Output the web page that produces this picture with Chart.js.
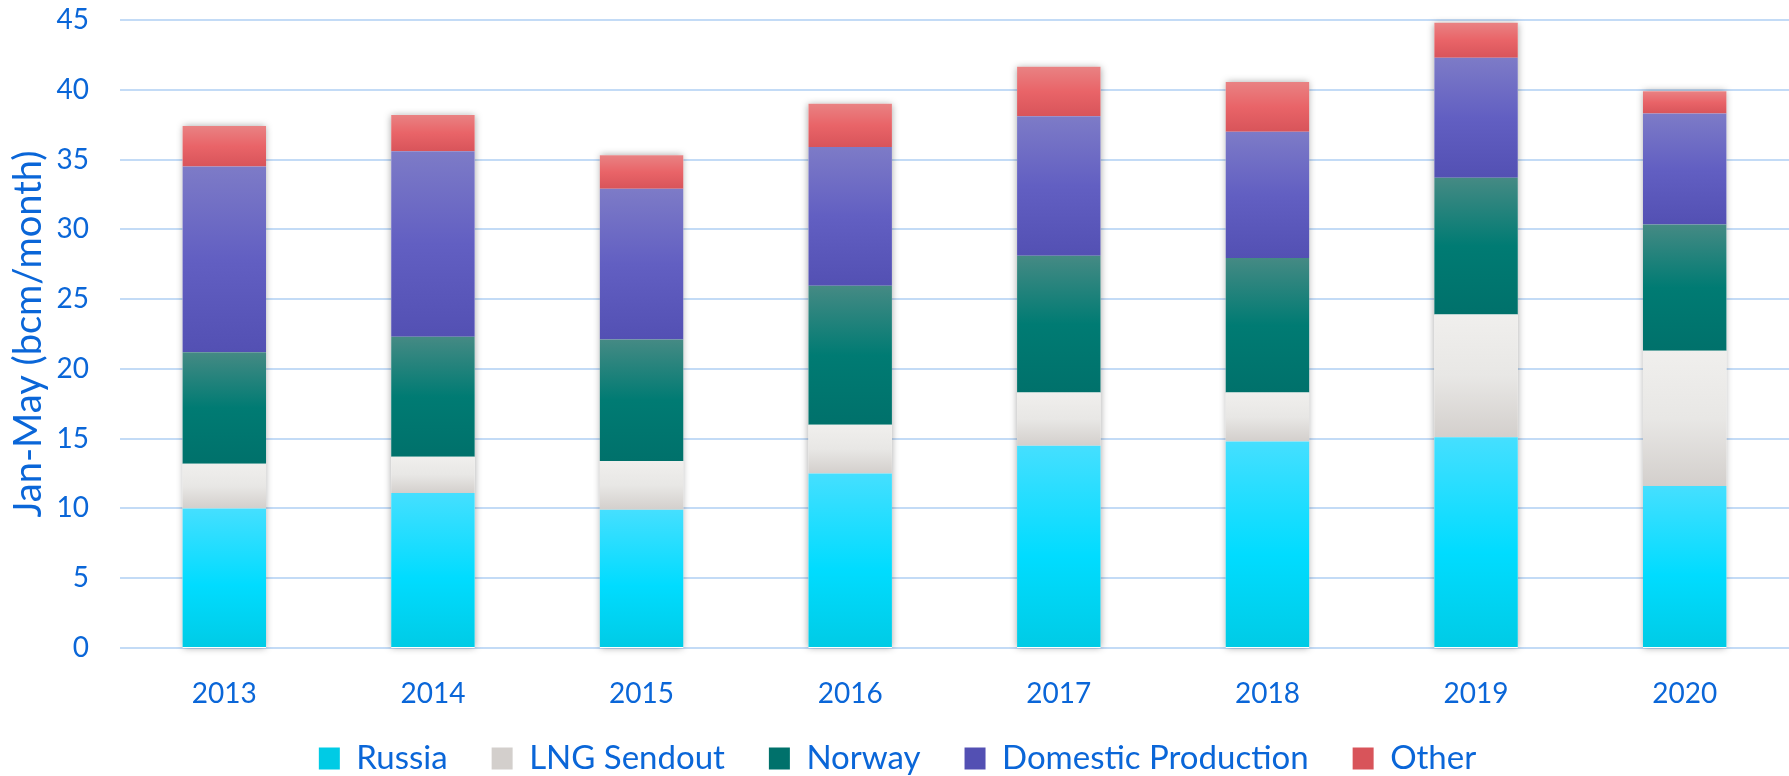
<!DOCTYPE html>
<html>
<head>
<meta charset="utf-8">
<script src="https://cdn.jsdelivr.net/npm/chart.js@4/dist/chart.umd.min.js"></script>
<style>
  html, body { margin: 0; padding: 0; background: #fff; overflow: hidden; }
  #myChart { display: block; position: absolute; left: 0; top: 0; }
</style>
</head>
<body>
<canvas id="myChart" width="1789" height="776"></canvas>
<script>
var years = ['2013', '2014', '2015', '2016', '2017', '2018', '2019', '2020'];
var russia = [10.0, 11.1, 9.9, 12.5, 14.5, 14.8, 15.1, 11.6];
var lng = [3.2, 2.6, 3.5, 3.5, 3.8, 3.5, 8.8, 9.7];
var norway = [8.0, 8.6, 8.7, 9.95, 9.8, 9.65, 9.8, 9.05];
var domestic = [13.3, 13.3, 10.8, 9.95, 10.0, 9.05, 8.6, 7.95];
var other = [2.9, 2.6, 2.4, 3.1, 3.55, 3.55, 2.5, 1.6];
var yTicks = [0, 5, 10, 15, 20, 25, 30, 35, 40, 45];

var series = [russia, lng, norway, domestic, other];
var textColor = '#0a66d8';

// vertical shading of each segment, light at the top, darker at the bottom
function shade(stops, s) {
    return function (c) {
        var chart = c.chart;
        if (!chart.chartArea || c.type !== 'data') return stops[1][1];
        var lo = 0;
        for (var k = 0; k < s; k++) lo += series[k][c.dataIndex];
        var hi = lo + series[s][c.dataIndex];
        var y = chart.scales.y;
        var g = chart.ctx.createLinearGradient(0, y.getPixelForValue(hi), 0, y.getPixelForValue(lo));
        stops.forEach(function (st) { g.addColorStop(st[0], st[1]); });
        return g;
    };
}

var russiaStops = [[0, '#45dfff'], [0.55, '#00dcff'], [1, '#00cbe5']];
var lngStops = [[0, '#f0efed'], [0.5, '#e8e7e5'], [1, '#d3cfcc']];
var norwayStops = [[0, '#458a84'], [0.5, '#007b73'], [1, '#00716b']];
var domesticStops = [[0, '#7d7bc7'], [0.5, '#625fc2'], [1, '#5350b3']];
var otherStops = [[0, '#e98283'], [0.5, '#e96468'], [1, '#d8545a']];

var stackShadow = {
    id: 'stackShadow',
    afterLayout: function (chart) {
        // let the year labels run below the x axis box without being clipped
        chart.scales.x.bottom = chart.height;
    },
    // soft shadow behind each whole stack
    beforeDatasetsDraw: function (chart) {
        var ctx = chart.ctx;
        var y = chart.scales.y;
        var meta = chart.getDatasetMeta(0);
        ctx.save();
        ctx.shadowColor = 'rgba(0,0,0,0.35)';
        ctx.shadowBlur = 7;
        ctx.fillStyle = '#ffffff';
        meta.data.forEach(function (bar, i) {
            var total = 0;
            series.forEach(function (arr) { total += arr[i]; });
            var top = y.getPixelForValue(total);
            var base = y.getPixelForValue(0);
            ctx.fillRect(bar.x - bar.width / 2, top, bar.width, base - top);
        });
        ctx.restore();
    }
};

var ctx = document.getElementById('myChart').getContext('2d');
var chart = new Chart(ctx, {
    type: 'bar',
    data: {
        labels: years,
        datasets: [
            { label: 'Russia', data: russia, backgroundColor: shade(russiaStops, 0) },
            { label: 'LNG Sendout', data: lng, backgroundColor: shade(lngStops, 1) },
            { label: 'Norway', data: norway, backgroundColor: shade(norwayStops, 2) },
            { label: 'Domestic Production', data: domestic, backgroundColor: shade(domesticStops, 3) },
            { label: 'Other', data: other, backgroundColor: shade(otherStops, 4) }
        ]
    },
    plugins: [stackShadow],
    options: {
        responsive: false,
        animation: false,
        categoryPercentage: 1,
        barPercentage: 0.4,
        layout: { padding: { top: 20, left: 6, right: 0, bottom: 0 } },
        plugins: {
            tooltip: { enabled: false },
            legend: {
                position: 'bottom',
                maxHeight: 78,
                labels: {
                    color: textColor,
                    font: { family: 'Lato', size: 33 },
                    boxWidth: 21,
                    boxHeight: 22,
                    padding: 44
                }
            }
        },
        scales: {
            x: {
                stacked: true,
                grid: { display: false },
                border: { display: false },
                ticks: { color: textColor, font: { family: 'Lato', size: 28 }, padding: 21 },
                afterFit: function (s) { s.height = 50; }
            },
            y: {
                stacked: true,
                min: 0,
                max: 45,
                afterBuildTicks: function (s) { s.ticks = yTicks.map(function (v) { return { value: v }; }); },
                grid: { color: '#c3dbf6', lineWidth: 2, drawTicks: false },
                border: { display: false },
                ticks: { color: textColor, font: { family: 'Lato', size: 28 }, padding: 31 },
                title: {
                    display: true,
                    text: 'Jan-May (bcm/month)',
                    color: textColor,
                    font: { family: 'Lato', size: 38 },
                    padding: 0
                },
                afterFit: function (s) {
                    s.width = 114;
                    s.paddingTop = 0;
                    s.paddingBottom = 0;
                }
            }
        }
    }
});
</script>
</body>
</html>
